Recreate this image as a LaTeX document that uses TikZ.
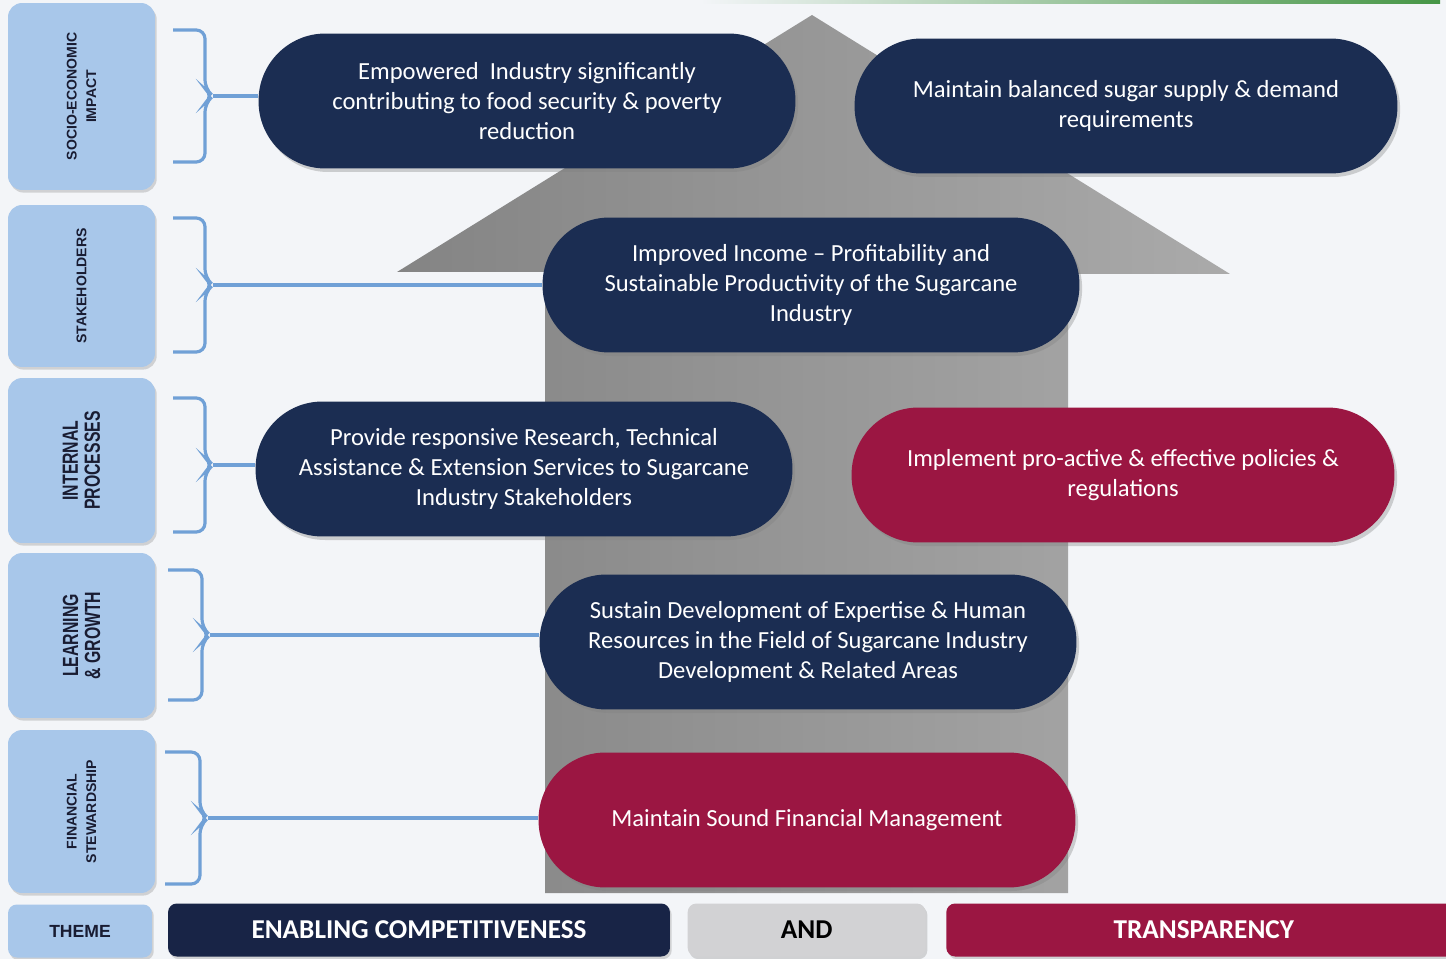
\documentclass[tikz,border=0pt]{standalone}
\usepackage{fontspec}
\setmainfont{Carlito}
\newfontfamily\arialfont{Liberation Sans}
\newfontfamily\narrowfont[FakeStretch=0.72]{Liberation Sans}
\usetikzlibrary{shadows,positioning}

\definecolor{navy}{RGB}{27,45,82}
\definecolor{navydark}{RGB}{24,36,70}
\definecolor{crimson}{RGB}{155,22,66}
\definecolor{sky}{RGB}{168,199,234}
\definecolor{bracecol}{RGB}{112,160,214}
\definecolor{ink}{RGB}{25,28,50}
\definecolor{paper}{RGB}{243,245,248}
\definecolor{andgray}{RGB}{210,210,212}
\definecolor{arrowdark}{RGB}{132,132,132}
\definecolor{arrowlight}{RGB}{170,170,170}
\definecolor{leafgreen}{RGB}{70,150,70}

\begin{document}
\begin{tikzpicture}[
  x=0.02cm, y=-0.02cm,
  pill/.style={rounded corners=1.34cm, minimum width=10.74cm, minimum height=2.7cm, inner sep=0pt, align=center, text=white, font=\fontsize{14}{17}\selectfont, drop shadow={shadow xshift=1.5pt, shadow yshift=-2pt, opacity=.35}},
  lab/.style={rotate=90, rounded corners=8pt, fill=sky, inner sep=0pt, align=center, text=ink, minimum height=2.94cm, drop shadow={shadow xshift=1pt, shadow yshift=-1.5pt, opacity=.3}},
  small/.style={font=\arialfont\bfseries\fontsize{8}{11}\selectfont},
  big/.style={font=\narrowfont\bfseries\fontsize{12.5}{12.5}\selectfont},
  bar/.style={rounded corners=5pt, minimum height=1.06cm, inner sep=0pt, font=\bfseries\fontsize{15.5}{16}\selectfont, drop shadow={shadow xshift=1pt, shadow yshift=-1.5pt, opacity=.3}},
  brc/.style={draw=bracecol, line width=1.8pt, rounded corners=5pt},
  lnk/.style={draw=bracecol, line width=1.8pt}
]
\useasboundingbox (0,0) rectangle (1446,959);
\fill[paper] (0,0) rectangle (1446,959);
\shade[left color=paper, right color=leafgreen] (700,0) rectangle (1440,4);

% big grey arrow behind the objectives
\shade[left color=arrowdark, right color=arrowlight] (812,15) -- (1230,274) -- (1068,274) -- (1068,893) -- (545,893) -- (545,272) -- (397,272) -- cycle;

% perspectives
\node[lab, small, minimum width=3.74cm] (socio) at (81.5,96.5) {SOCIO-ECONOMIC\\IMPACT};
\node[lab, small, minimum width=3.24cm] (stake) at (81.5,286) {STAKEHOLDERS};
\node[lab, big, minimum width=3.3cm] (internal) at (81.5,460.5) {INTERNAL\\PROCESSES};
\node[lab, big, minimum width=3.3cm] (learning) at (81.5,635.5) {LEARNING\\\& GROWTH};
\node[lab, small, minimum width=3.26cm] (financial) at (81.5,811.5) {FINANCIAL\\STEWARDSHIP};

% objectives
\node[pill, fill=navy] (empower) at (527,101) {Empowered\ \ Industry significantly\\contributing to food security \& poverty\\reduction};
\node[pill, fill=navy, minimum width=10.86cm] (balance) at (1126,106) {Maintain balanced sugar supply \& demand\\requirements};
\node[pill, fill=navy] (income) at (811,285) {Improved Income -- Profitability and\\Sustainable Productivity of the Sugarcane\\Industry};
\node[pill, fill=navy] (research) at (524,469) {Provide responsive Research, Technical\\Assistance \& Extension Services to Sugarcane\\Industry Stakeholders};
\node[pill, fill=crimson, minimum width=10.86cm] (policy) at (1123,475) {Implement pro-active \& effective policies \&\\regulations};
\node[pill, fill=navy] (expertise) at (808,642) {Sustain Development of Expertise \& Human\\Resources in the Field of Sugarcane Industry\\Development \& Related Areas};
\node[pill, fill=crimson] (finance) at (807,820) {Maintain Sound Financial Management};

% braces
\draw[brc] (173,30) -- (205,30) -- (205,89) -- (213,96) -- (205,103) -- (205,162) -- (173,162);
\draw[brc] (173,218) -- (205,218) -- (205,278) -- (213,285) -- (205,292) -- (205,352) -- (173,352);
\draw[brc] (173,398) -- (205,398) -- (205,458) -- (213,465) -- (205,472) -- (205,532) -- (173,532);
\draw[brc] (168,570) -- (202,570) -- (202,628) -- (210,635) -- (202,642) -- (202,700) -- (168,700);
\draw[brc] (165,752) -- (200,752) -- (200,811) -- (208,818) -- (200,825) -- (200,884) -- (165,884);
\coordinate (t1) at (213,96);
\coordinate (t2) at (213,285);
\coordinate (t3) at (213,465);
\coordinate (t4) at (210,635);
\coordinate (t5) at (208,818);
\draw[lnk] (t1) -- (t1 -| empower.west);
\draw[lnk] (t2) -- (t2 -| income.west);
\draw[lnk] (t3) -- (t3 -| research.west);
\draw[lnk] (t4) -- (t4 -| expertise.west);
\draw[lnk] (t5) -- (t5 -| finance.west);

% theme bar
\node[bar, fill=sky, text=ink, minimum width=2.88cm, font=\arialfont\bfseries\fontsize{10}{10}\selectfont] (theme) at (80,931) {THEME};
\node[bar, fill=navydark, text=white, minimum width=10.04cm] (enable) at (419,930) {ENABLING COMPETITIVENESS};
\node[bar, fill=andgray, text=black, minimum width=4.76cm, right=0.34cm of enable] (and) {AND};
\node[bar, fill=crimson, text=white, minimum width=10.3cm, right=0.4cm of and] (transp) {TRANSPARENCY};
\end{tikzpicture}
\end{document}
